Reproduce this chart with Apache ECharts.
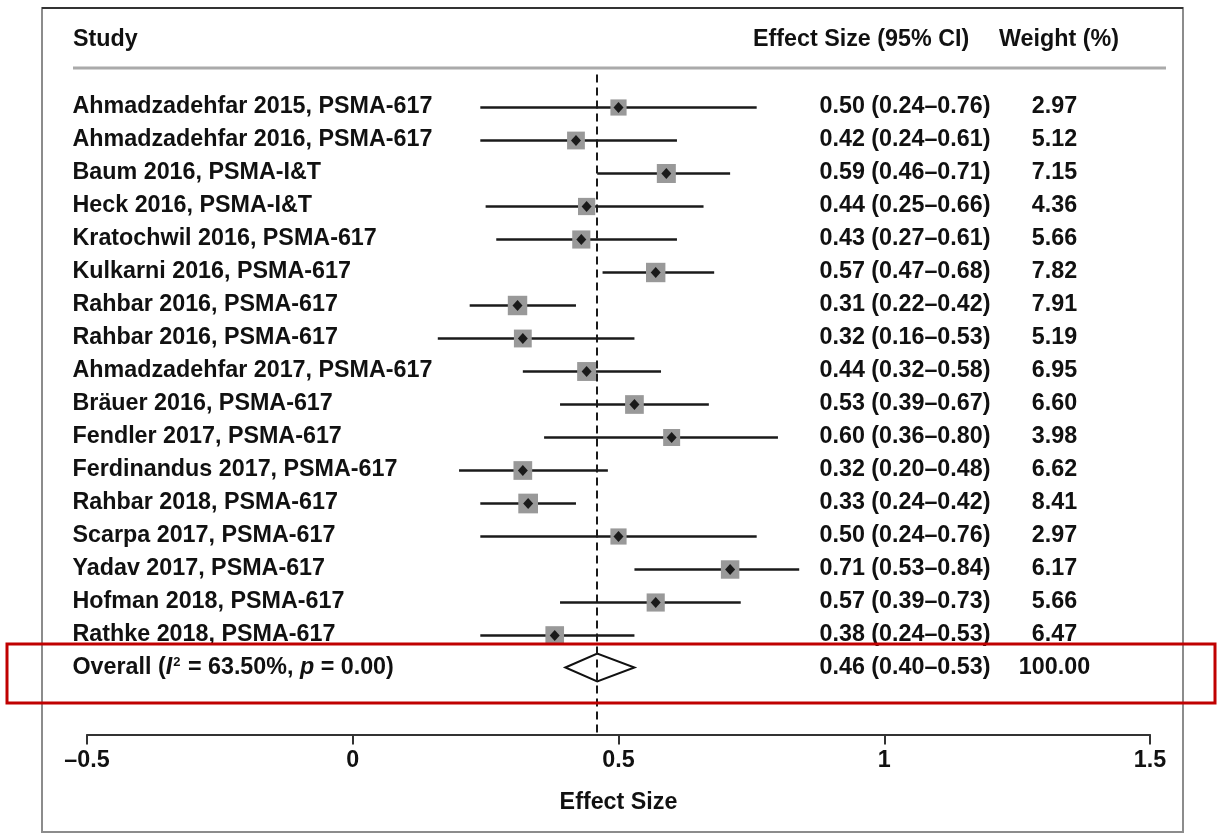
<!DOCTYPE html>
<html>
<head>
<meta charset="utf-8">
<script src="https://cdn.jsdelivr.net/npm/echarts@6/dist/echarts.min.js"></script>
<style>
html,body{margin:0;padding:0;background:#fff;}
#chart{width:1217px;height:836px;}
</style>
</head>
<body>
<div id="chart"></div>
<script>
// ---- data ----
const studies = [
  'Ahmadzadehfar 2015, PSMA-617',
  'Ahmadzadehfar 2016, PSMA-617',
  'Baum 2016, PSMA-I&T',
  'Heck 2016, PSMA-I&T',
  'Kratochwil 2016, PSMA-617',
  'Kulkarni 2016, PSMA-617',
  'Rahbar 2016, PSMA-617',
  'Rahbar 2016, PSMA-617',
  'Ahmadzadehfar 2017, PSMA-617',
  'Bräuer 2016, PSMA-617',
  'Fendler 2017, PSMA-617',
  'Ferdinandus 2017, PSMA-617',
  'Rahbar 2018, PSMA-617',
  'Scarpa 2017, PSMA-617',
  'Yadav 2017, PSMA-617',
  'Hofman 2018, PSMA-617',
  'Rathke 2018, PSMA-617'
];
const effect = [0.50,0.42,0.59,0.44,0.43,0.57,0.31,0.32,0.44,0.53,0.60,0.32,0.33,0.50,0.71,0.57,0.38];
const ciLow  = [0.24,0.24,0.46,0.25,0.27,0.47,0.22,0.16,0.32,0.39,0.36,0.20,0.24,0.24,0.53,0.39,0.24];
const ciHigh = [0.76,0.61,0.71,0.66,0.61,0.68,0.42,0.53,0.58,0.67,0.80,0.48,0.42,0.76,0.84,0.73,0.53];
const weights = [2.97,5.12,7.15,4.36,5.66,7.82,7.91,5.19,6.95,6.60,3.98,6.62,8.41,2.97,6.17,5.66,6.47];
const overallEffect = 0.46;
const overallLow = 0.40;
const overallHigh = 0.53;
const overallWeight = 100.00;
const xTicks = [-0.5, 0, 0.5, 1, 1.5];

// ---- chart ----
const FONT = '"Liberation Sans", Arial, Helvetica, sans-serif';
const FS = 23.3;
const n = studies.length;
const overallRow = n;
const fmt2 = v => v.toFixed(2);
const esText = (e, l, h) => fmt2(e) + ' (' + fmt2(l) + '\u2013' + fmt2(h) + ')';

const chart = echarts.init(document.getElementById('chart'), null, {renderer: 'canvas'});

const ciData = studies.map((s, i) => [ciLow[i], ciHigh[i], i]);
const boxData = studies.map((s, i) => [effect[i], i, weights[i]]);
const dotData = studies.map((s, i) => [effect[i], i]);
const nameData = studies.map((s, i) => ({value: [xTicks[0], i], name: s}));
nameData.push({value: [xTicks[0], overallRow], name: 'overall'});
const esData = studies.map((s, i) => ({value: [xTicks[xTicks.length - 1], i], name: esText(effect[i], ciLow[i], ciHigh[i])}));
esData.push({value: [xTicks[xTicks.length - 1], overallRow], name: esText(overallEffect, overallLow, overallHigh)});
const wData = studies.map((s, i) => ({value: [xTicks[xTicks.length - 1], i], name: weights[i].toFixed(2)}));
wData.push({value: [xTicks[xTicks.length - 1], overallRow], name: overallWeight.toFixed(2)});

const textLabel = (pos, align) => ({
  show: true, position: pos, align: align, verticalAlign: 'middle',
  fontFamily: FONT, fontSize: FS, fontWeight: 'bold', color: '#111',
  formatter: p => p.name
});
const hiddenItem = {color: 'rgba(0,0,0,0)', opacity: 1};

const option = {
  animation: false,
  backgroundColor: '#fff',
  grid: {left: 87, right: 67, top: 74.5, bottom: 101.5, containLabel: false},
  xAxis: {
    type: 'value', min: xTicks[0], max: xTicks[xTicks.length - 1], interval: 0.5,
    splitLine: {show: false},
    axisLine: {show: true, onZero: false, lineStyle: {color: '#333', width: 2}},
    axisTick: {show: true, length: 10, lineStyle: {color: '#333', width: 2}},
    axisLabel: {
      margin: 15, color: '#111', fontFamily: FONT, fontSize: FS, fontWeight: 'bold',
      formatter: v => (v < 0 ? '\u2013' + String(Math.abs(v)) : String(v))
    },
    name: 'Effect Size', nameLocation: 'middle', nameGap: 57,
    nameTextStyle: {color: '#111', fontFamily: FONT, fontSize: FS, fontWeight: 'bold'}
  },
  yAxis: {type: 'value', inverse: true, min: -1, max: 19, show: false},
  series: [
    {
      type: 'custom', name: 'ci', data: ciData, encode: {x: [0, 1], y: 2}, z: 2,
      renderItem: (params, api) => {
        const p1 = api.coord([api.value(0), api.value(2)]);
        const p2 = api.coord([api.value(1), api.value(2)]);
        return {type: 'line', shape: {x1: p1[0], y1: p1[1], x2: p2[0], y2: p2[1]},
                style: {stroke: '#1a1a1a', lineWidth: 2.4}};
      },
      markLine: {
        silent: true, symbol: ['none', 'none'], label: {show: false},
        lineStyle: {color: '#1a1a1a', width: 2, type: [8, 5]},
        data: [{xAxis: overallEffect}]
      }
    },
    {
      type: 'scatter', name: 'box', data: boxData, symbol: 'rect', z: 3,
      symbolSize: v => 11 + 3 * Math.sqrt(v[2]),
      itemStyle: {color: '#999999', opacity: 1}
    },
    {
      type: 'scatter', name: 'dot', data: dotData, symbol: 'diamond', z: 4,
      symbolSize: [10, 11], itemStyle: {color: '#1a1a1a', opacity: 1}
    },
    {
      type: 'custom', name: 'overall', z: 4,
      data: [[overallLow, overallHigh, overallEffect, overallRow]],
      encode: {x: [0, 1, 2], y: 3},
      renderItem: (params, api) => {
        const l = api.coord([api.value(0), api.value(3)]);
        const r = api.coord([api.value(1), api.value(3)]);
        const c = api.coord([api.value(2), api.value(3)]);
        const h = 14;
        return {type: 'polygon',
          shape: {points: [[l[0], l[1] - 1], [c[0], c[1] - h - 1], [r[0], r[1] - 1], [c[0], c[1] + h - 1]]},
          style: {fill: '#fff', stroke: '#111', lineWidth: 2}};
      }
    },
    {
      type: 'scatter', name: 'names', data: nameData, symbolSize: 1, clip: false, z: 5,
      itemStyle: hiddenItem,
      label: Object.assign(textLabel([-14, 0], 'left'), {
        formatter: p => p.name === 'overall'
          ? 'Overall ({i|I}{sup|2} = 63.50%, {i|p} = 0.00)'
          : p.name,
        rich: {
          i: {fontFamily: FONT, fontSize: FS, fontWeight: 'bold', fontStyle: 'italic', color: '#111'},
          sup: {fontFamily: FONT, fontSize: 13, fontWeight: 'bold', color: '#111', padding: [0, 1, 12, 1]}
        }
      })
    },
    {
      type: 'scatter', name: 'es', data: esData, symbolSize: 1, clip: false, z: 5,
      itemStyle: hiddenItem,
      label: textLabel([-330, 0], 'left')
    },
    {
      type: 'scatter', name: 'w', data: wData, symbolSize: 1, clip: false, z: 5,
      itemStyle: hiddenItem,
      label: textLabel([-95, 0], 'center')
    }
  ],
  graphic: [
    {type: 'rect', shape: {x: 42, y: 8, width: 1141, height: 824},
     style: {fill: 'none', stroke: '#8c8c8c', lineWidth: 2}, z: 0},
    {type: 'line', shape: {x1: 42, y1: 8, x2: 1183, y2: 8},
     style: {stroke: '#333', lineWidth: 2}, z: 1},
    {type: 'line', shape: {x1: 73, y1: 68, x2: 1166, y2: 68},
     style: {stroke: '#aaaaaa', lineWidth: 3}, z: 1},
    {type: 'text', x: 73, y: 40, style: {text: 'Study', fontFamily: FONT, fontSize: FS, fontWeight: 'bold', fill: '#111', textVerticalAlign: 'middle'}},
    {type: 'text', x: 753, y: 40, style: {text: 'Effect Size (95% CI)', fontFamily: FONT, fontSize: FS, fontWeight: 'bold', fill: '#111', textVerticalAlign: 'middle'}},
    {type: 'text', x: 999, y: 40, style: {text: 'Weight (%)', fontFamily: FONT, fontSize: FS, fontWeight: 'bold', fill: '#111', textVerticalAlign: 'middle'}},
    {type: 'rect', shape: {x: 7, y: 644, width: 1208, height: 59},
     style: {fill: 'none', stroke: '#c00000', lineWidth: 3}, z: 100}
  ]
};
chart.setOption(option);
</script>
</body>
</html>
